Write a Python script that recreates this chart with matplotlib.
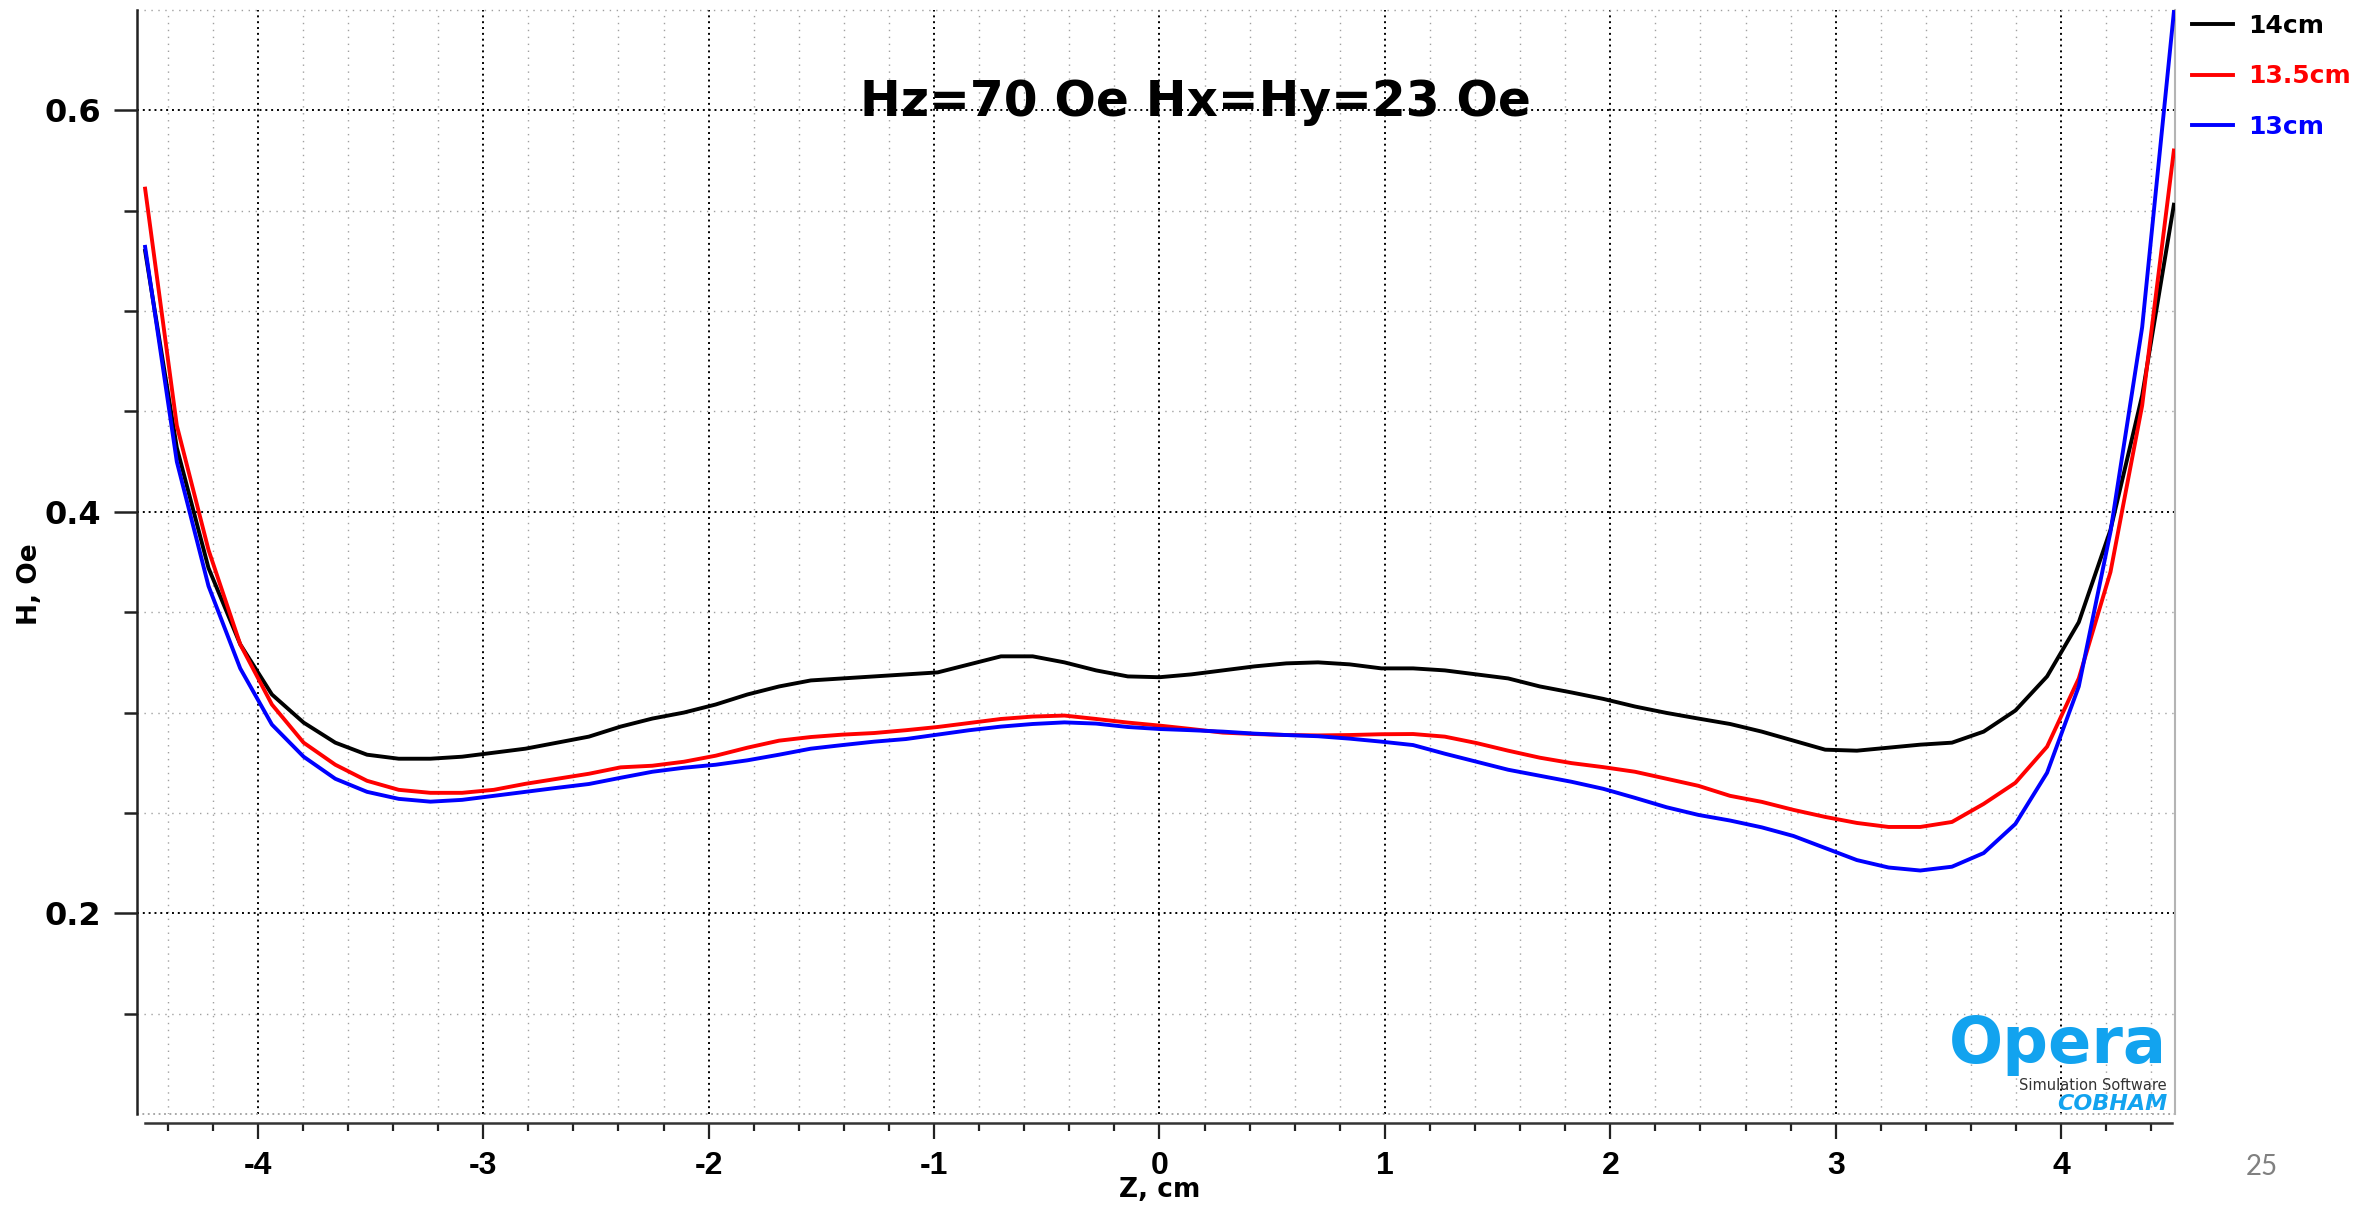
import numpy as np
import matplotlib
matplotlib.use("Agg")
import matplotlib.pyplot as plt
from matplotlib.ticker import MultipleLocator, FixedLocator

plt.rcParams['axes.unicode_minus'] = False
plt.rcParams['font.weight'] = 'bold'

# Z positions along the axis (cm), 65 samples from -4.5 to 4.5
z_cm = np.linspace(-4.5, 4.5, 65)

h_14cm = [0.530, 0.432, 0.372, 0.334, 0.309, 0.295, 0.285, 0.279, 0.277, 0.277,
          0.278, 0.280, 0.282, 0.285, 0.288, 0.293, 0.297, 0.300, 0.304, 0.309,
          0.313, 0.316, 0.317, 0.318, 0.319, 0.320, 0.324, 0.328, 0.328, 0.325,
          0.321, 0.318, 0.3176, 0.319, 0.321, 0.323, 0.3245, 0.325, 0.324, 0.322,
          0.322, 0.321, 0.319, 0.317, 0.313, 0.310, 0.3068, 0.303, 0.2998, 0.297,
          0.2943, 0.2905, 0.286, 0.2815, 0.281, 0.2825, 0.284, 0.285, 0.2905, 0.301,
          0.318, 0.345, 0.391, 0.458, 0.553]

h_13_5cm = [0.561, 0.443, 0.381, 0.334, 0.304, 0.285, 0.274, 0.266, 0.2615, 0.260,
            0.260, 0.2615, 0.2645, 0.267, 0.2695, 0.2727, 0.2735, 0.2755, 0.2785, 0.2825,
            0.286, 0.2878, 0.289, 0.2898, 0.2912, 0.2928, 0.2948, 0.2968, 0.298, 0.2985,
            0.2968, 0.295, 0.2935, 0.2918, 0.290, 0.2893, 0.2888, 0.2886, 0.2888, 0.2892,
            0.2893, 0.288, 0.2848, 0.281, 0.2775, 0.2748, 0.2728, 0.2705, 0.267, 0.2635,
            0.2585, 0.2555, 0.2515, 0.248, 0.245, 0.243, 0.243, 0.2455, 0.2545, 0.265,
            0.283, 0.317, 0.370, 0.453, 0.580]

h_13cm = [0.532, 0.425, 0.363, 0.322, 0.294, 0.278, 0.267, 0.2605, 0.257, 0.2556,
          0.2565, 0.2585, 0.2605, 0.2625, 0.2644, 0.2675, 0.2705, 0.2725, 0.274, 0.2762,
          0.279, 0.282, 0.2838, 0.2855, 0.2868, 0.289, 0.2912, 0.293, 0.2943, 0.2951,
          0.2945, 0.2928, 0.2918, 0.2912, 0.2905, 0.2895, 0.2888, 0.2882, 0.287, 0.2855,
          0.2838, 0.2795, 0.2755, 0.2715, 0.2685, 0.2655, 0.262, 0.2575, 0.2528, 0.249,
          0.2462, 0.2428, 0.2385, 0.2325, 0.2265, 0.2228, 0.2213, 0.2232, 0.230, 0.2445,
          0.270, 0.313, 0.390, 0.492, 0.649]

series = [('14cm', h_14cm, 'black'),
          ('13.5cm', h_13_5cm, 'red'),
          ('13cm', h_13cm, 'blue')]

W, H = 2379, 1210
fig = plt.figure(figsize=(W / 100, H / 100), dpi=100)
ax = fig.add_axes([137 / W, 1 - 1114 / H, (2175 - 137) / W, (1114 - 10) / H])

for label, vals, color in series:
    ax.plot(z_cm, vals, color=color, lw=2.8, label=label, zorder=3)

ax.set_xlim(-4.536, 4.505)
ax.set_ylim(0.1, 0.65)

# ticks
ax.xaxis.set_major_locator(FixedLocator([-4, -3, -2, -1, 0, 1, 2, 3, 4]))
ax.xaxis.set_minor_locator(MultipleLocator(0.2))
ax.yaxis.set_major_locator(FixedLocator([0.2, 0.4, 0.6]))
ax.yaxis.set_minor_locator(FixedLocator([0.15, 0.25, 0.3, 0.35, 0.45, 0.5, 0.55]))
ax.set_xticklabels(['-4', '-3', '-2', '-1', '0', '1', '2', '3', '4'])
ax.set_yticklabels(['0.2', '0.4', '0.6'])

ax.tick_params(axis='x', which='major', direction='out', length=11.5, width=1.6,
               color='#222222', pad=9, labelsize=23, labelfontfamily='Liberation Sans')
ax.tick_params(axis='x', which='minor', direction='out', length=5.8, width=1.6,
               color='#222222')
ax.tick_params(axis='y', which='major', direction='out', length=16.5, width=1.8,
               color='#222222', pad=9, labelsize=23)
ax.tick_params(axis='y', which='minor', direction='out', length=9.4, width=1.8,
               color='#222222')

# grid: black dotted majors, grey dotted minors
ax.grid(which='major', color='black', lw=1.4, linestyle=(0, (1, 2)), zorder=1)
ax.grid(which='minor', color='#a0a0a0', lw=1.0, linestyle=(0, (1, 4)), zorder=1)
ax.set_axisbelow(True)

# frame
ax.spines['top'].set_visible(False)
ax.spines['right'].set_color('#b4b4b4')
ax.spines['right'].set_linewidth(1.5)
ax.spines['left'].set_color('#222222')
ax.spines['left'].set_linewidth(1.8)
ax.spines['bottom'].set_position(('outward', 6.5))
ax.spines['bottom'].set_bounds(-4.5, 4.49)
ax.spines['bottom'].set_color('#333333')
ax.spines['bottom'].set_linewidth(1.8)
ax.axhline(0.65, color='#a0a0a0', lw=1.0, linestyle=(0, (1, 4)), clip_on=False)
ax.axhline(0.1, color='#a0a0a0', lw=1.3, linestyle=(0, (1, 2)), clip_on=False)

# legend outside on the right
leg = ax.legend(loc='upper left', bbox_to_anchor=(2192 / W, 1 - 14 / H),
                bbox_transform=fig.transFigure, frameon=False, borderpad=0,
                borderaxespad=0, handlelength=1.65, handletextpad=0.6,
                labelspacing=1.05, labelcolor='linecolor',
                prop={'weight': 'bold', 'size': 18})

# labels and title
fig.text(1160 / W, 1 - 1190 / H, 'Z, cm', ha='center', va='center',
         fontsize=19, fontweight='bold')
fig.text(30 / W, 1 - 584 / H, 'H, Oe', ha='center', va='center', rotation=90,
         fontsize=19, fontweight='bold')
fig.text(1195 / W, 1 - 116 / H, 'Hz=70 Oe Hx=Hy=23 Oe', ha='center', va='baseline',
         fontsize=35, fontweight='bold')

# Opera logo and page number
opera_blue = '#12a3ef'
fig.text(2167 / W, 1 - 1063 / H, 'Opera', ha='right', va='baseline',
         fontsize=46, fontweight='bold', color=opera_blue)
fig.text(2167 / W, 1 - 1085 / H, 'Simulation Software', ha='right', va='center',
         fontsize=10.5, fontweight='normal', color='#333333')
fig.text(2167 / W, 1 - 1104 / H, 'COBHAM', ha='right', va='center',
         fontsize=16, fontweight='bold', fontstyle='italic', color=opera_blue)
fig.text(2262 / W, 1 - 1167 / H, '25', ha='center', va='center',
         fontsize=20, fontweight='normal', color='#808080', family='Lato')

fig.savefig('out.png', dpi=100)
